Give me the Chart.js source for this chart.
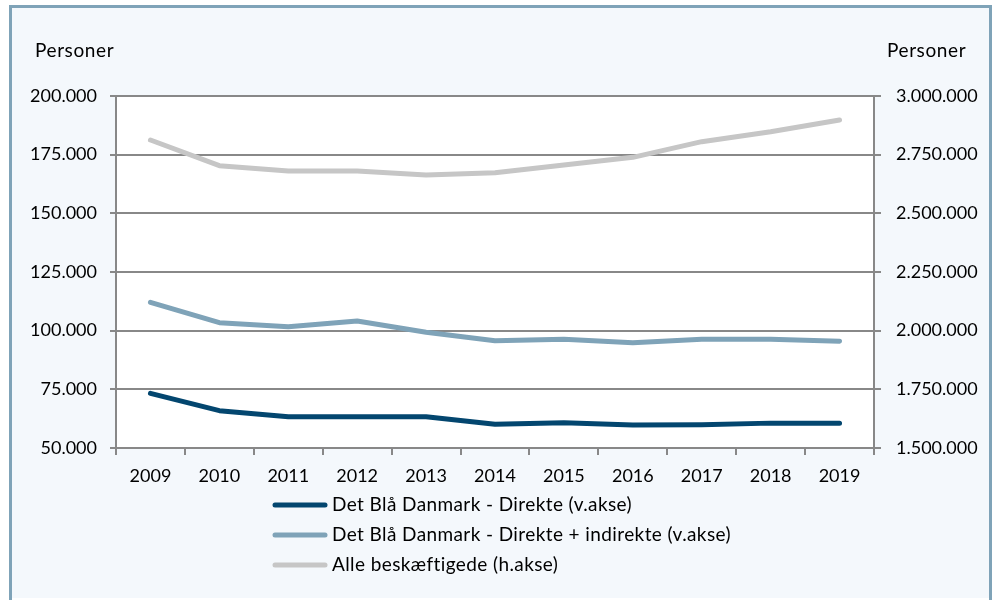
<!DOCTYPE html>
<html><head><meta charset="utf-8">
<script src="https://cdn.jsdelivr.net/npm/chart.js@4"></script>
<style>html,body{margin:0;padding:0;background:#fff;}</style>
</head><body>
<canvas id="c" width="997" height="600"></canvas>
<script>
const years = ['2009','2010','2011','2012','2013','2014','2015','2016','2017','2018','2019'];
const direkte = [73300, 65900, 63300, 63300, 63300, 60100, 60800, 59800, 59900, 60600, 60600];
const direkteIndirekte = [112100, 103400, 101700, 104100, 99300, 95700, 96300, 94900, 96300, 96300, 95500];
const alleBeskaeftigede = [2812500, 2703100, 2680400, 2680400, 2663400, 2673300, 2706000, 2738700, 2805400, 2848000, 2897700];
const seriesLabels = ['Det Blå Danmark - Direkte (v.akse)', 'Det Blå Danmark - Direkte + indirekte (v.akse)', 'Alle beskæftigede (h.akse)'];
const seriesColors = ['#03466f', '#7fa3b8', '#c6c6c6'];
const axisTitle = 'Personer';
const leftRange = [50000, 200000, 25000];
const rightRange = [1500000, 3000000, 250000];

const FONT = {family: 'Lato', size: 18};
const GRID = '#888888';
function fmt(v){ return String(Math.round(v)).replace(/\B(?=(\d{3})+(?!\d))/g, '.'); }

const frame = {
  id: 'frame',
  beforeDraw(chart){
    const ctx = chart.ctx, a = chart.chartArea;
    ctx.save();
    ctx.fillStyle = '#ffffff';
    ctx.fillRect(0,0,chart.width,chart.height);
    ctx.fillStyle = '#f4f8fc';
    ctx.fillRect(11,7,979,591);
    ctx.strokeStyle = '#7fa3b8';
    ctx.lineWidth = 3;
    ctx.beginPath();
    ctx.moveTo(10.5, 640); ctx.lineTo(10.5, 6.5); ctx.lineTo(990.5, 6.5); ctx.lineTo(990.5, 640);
    ctx.stroke();
    ctx.fillStyle = '#ffffff';
    ctx.fillRect(a.left, a.top, a.right - a.left, a.bottom - a.top);
    ctx.restore();
  },
  afterDraw(chart){
    const ctx = chart.ctx;
    ctx.save();
    ctx.font = '19px Lato';
    ctx.letterSpacing = '0.6px';
    ctx.fillStyle = '#000';
    ctx.textBaseline = 'middle';
    ctx.textAlign = 'left';
    ctx.fillText(axisTitle, 35, 51);
    ctx.fillText(axisTitle, 887, 51);
    ctx.letterSpacing = '0.4px';
    chart.data.datasets.forEach((ds, i) => {
      const y = 505 + i * 30;
      ctx.strokeStyle = ds.borderColor;
      ctx.lineWidth = 5;
      ctx.lineCap = 'round';
      ctx.beginPath(); ctx.moveTo(275, y); ctx.lineTo(325, y); ctx.stroke();
      ctx.fillStyle = '#000';
      ctx.fillText(ds.label, 332, y);
    });
    ctx.restore();
  }
};

new Chart(document.getElementById('c'), {
  type: 'line',
  data: {
    labels: years,
    datasets: [
      {label: seriesLabels[0], data: direkte, yAxisID: 'y', borderColor: seriesColors[0]},
      {label: seriesLabels[1], data: direkteIndirekte, yAxisID: 'y', borderColor: seriesColors[1]},
      {label: seriesLabels[2], data: alleBeskaeftigede, yAxisID: 'y1', borderColor: seriesColors[2]}
    ]
  },
  options: {
    responsive: false,
    devicePixelRatio: 1,
    animation: false,
    layout: {padding: {top: 96, left: 0, right: 0, bottom: 0}},
    elements: {
      line: {borderWidth: 5, tension: 0, borderCapStyle: 'round', borderJoinStyle: 'round', fill: false},
      point: {radius: 0, hoverRadius: 0}
    },
    plugins: {legend: {display: false}, tooltip: {enabled: false}},
    scales: {
      x: {
        offset: true,
        grid: {offset: true, drawOnChartArea: false, drawTicks: true, tickLength: 7, color: GRID, lineWidth: 2},
        border: {color: GRID, width: 2},
        ticks: {font: FONT, color: '#000', padding: 10, maxRotation: 0, autoSkip: false},
        afterFit(s){ s.height = 152; }
      },
      y: {
        position: 'left', min: leftRange[0], max: leftRange[1],
        grid: {color: GRID, lineWidth: 2, tickLength: 6},
        border: {color: GRID, width: 2},
        ticks: {stepSize: leftRange[2], font: FONT, color: '#000', padding: 13, callback: v => fmt(v)},
        afterFit(s){ s.width = 116; }
      },
      y1: {
        position: 'right', min: rightRange[0], max: rightRange[1],
        grid: {drawOnChartArea: false, color: GRID, lineWidth: 2, tickLength: 7},
        border: {color: GRID, width: 2},
        ticks: {stepSize: rightRange[2], font: FONT, color: '#000', padding: 15, callback: v => fmt(v)},
        afterFit(s){ s.width = 123; }
      }
    }
  },
  plugins: [frame]
});
</script>
</body></html>
